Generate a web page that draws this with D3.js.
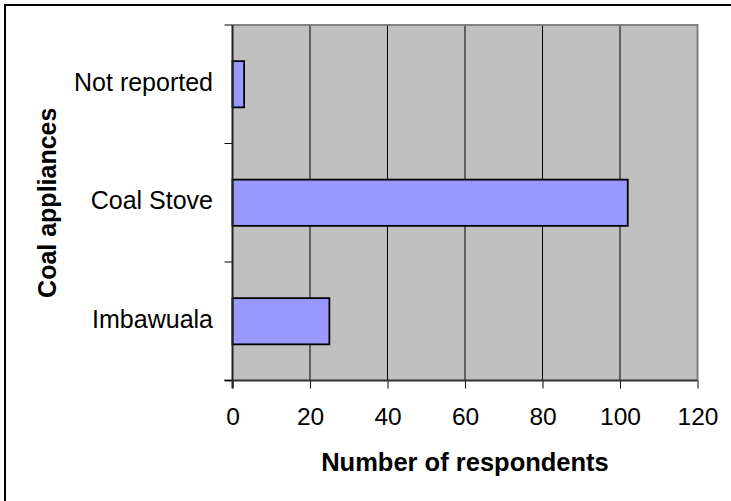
<!DOCTYPE html>
<html>
<head>
<meta charset="utf-8">
<script src="https://cdn.jsdelivr.net/npm/d3@7"></script>
<style>
  html, body { margin: 0; padding: 0; background: #fff; }
  svg { display: block; }
  text { font-family: "Liberation Sans", Arial, sans-serif; fill: #000; }
</style>
</head>
<body>
<svg id="chart" width="731" height="501"></svg>
<script>
// Coal appliances used by respondents (top to bottom as drawn)
const categories = ["Not reported", "Coal Stove", "Imbawuala"];
const respondents = [3, 102, 25];
const xTicks = [0, 20, 40, 60, 80, 100, 120];
const xTitle = "Number of respondents";
const yTitle = "Coal appliances";

const svg = d3.select("#chart");
const plot = { left: 232.5, right: 697.5, top: 25, bottom: 380.5 };

const x = d3.scaleLinear().domain([0, 120]).range([plot.left, plot.right]);
const y = d3.scaleBand().domain(categories).range([plot.top, plot.bottom]).padding(0);

// outer frame (runs off the right and bottom edges)
svg.append("rect")
  .attr("x", 5).attr("y", 5).attr("width", 740).attr("height", 510)
  .attr("fill", "none").attr("stroke", "#000").attr("stroke-width", 2);

// plot background
svg.append("rect")
  .attr("x", plot.left).attr("y", plot.top)
  .attr("width", plot.right - plot.left).attr("height", plot.bottom - plot.top)
  .attr("fill", "#c0c0c0");

// vertical gridlines
svg.append("g").selectAll("line")
  .data(xTicks.filter(d => d > 0 && d < 120))
  .join("line")
  .attr("x1", d => x(d)).attr("x2", d => x(d))
  .attr("y1", plot.top).attr("y2", plot.bottom)
  .attr("stroke", "#000").attr("stroke-width", 1);

// plot border (top / right)
svg.append("path")
  .attr("d", `M${plot.left},${plot.top}H${plot.right}V${plot.bottom}`)
  .attr("fill", "none").attr("stroke", "#808080").attr("stroke-width", 2);

// bars
const barFrac = 0.39;
svg.append("g").selectAll("rect")
  .data(categories.map((c, i) => ({ c, v: respondents[i] })))
  .join("rect")
  .attr("x", x(0))
  .attr("y", d => y(d.c) + y.bandwidth() * (1 - barFrac) / 2)
  .attr("width", d => x(d.v) - x(0))
  .attr("height", y.bandwidth() * barFrac)
  .attr("fill", "#9999ff")
  .attr("stroke", "#000").attr("stroke-width", 1.8);

// x axis
const xAxis = svg.append("g")
  .attr("transform", `translate(0,${plot.bottom})`)
  .call(d3.axisBottom(x).tickValues(xTicks).tickSize(8).tickPadding(19).tickSizeOuter(0));
xAxis.select(".domain").remove();
xAxis.selectAll(".tick line").attr("stroke", "#000");
xAxis.selectAll(".tick text")
  .style("font-size", "24.5px").style("font-family", "'Liberation Sans', Arial, sans-serif")
  .attr("fill", "#000");
svg.append("line")
  .attr("x1", plot.left - 8).attr("x2", plot.right)
  .attr("y1", plot.bottom).attr("y2", plot.bottom)
  .attr("stroke", "#333").attr("stroke-width", 2);

// y axis: ticks at category boundaries, labels centred in each band
const bounds = categories.map(c => y(c)).concat([plot.bottom]);
svg.append("g").selectAll("line")
  .data(bounds)
  .join("line")
  .attr("x1", plot.left - 8).attr("x2", plot.left)
  .attr("y1", d => d).attr("y2", d => d)
  .attr("stroke", "#000").attr("stroke-width", 1);
svg.append("line")
  .attr("x1", plot.left).attr("x2", plot.left)
  .attr("y1", plot.top).attr("y2", plot.bottom + 8)
  .attr("stroke", "#222").attr("stroke-width", 2);
svg.append("g").selectAll("text")
  .data(categories)
  .join("text")
  .attr("x", 213)
  .attr("y", d => y(d) + y.bandwidth() / 2 + 6.5)
  .attr("text-anchor", "end")
  .style("font-size", "25px")
  .text(d => d);

// axis titles
svg.append("text")
  .attr("x", (plot.left + plot.right) / 2).attr("y", 471)
  .attr("text-anchor", "middle")
  .style("font-size", "25.5px").style("font-weight", "bold")
  .text(xTitle);
svg.append("text")
  .attr("transform", `translate(56,${(plot.top + plot.bottom) / 2}) rotate(-90)`)
  .attr("text-anchor", "middle")
  .style("font-size", "25px").style("font-weight", "bold")
  .text(yTitle);
</script>
</body>
</html>
